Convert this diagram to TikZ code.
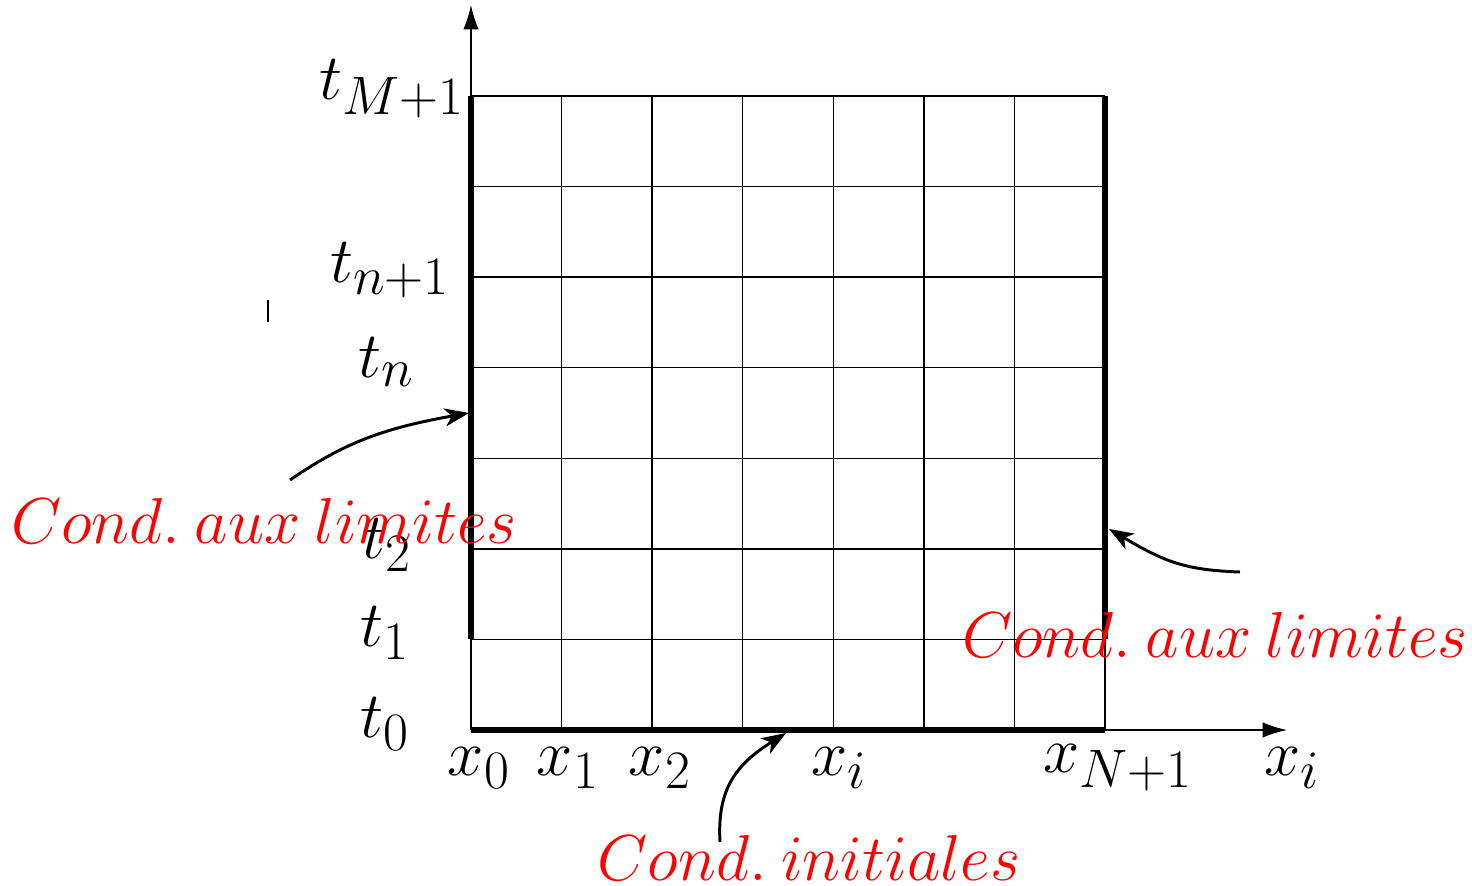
\documentclass[tikz,border=0pt]{standalone}
\usetikzlibrary{arrows.meta}
\begin{document}
\begin{tikzpicture}[x=0.3888pt,y=-0.3888pt,
  lbl/.style={font=\Huge, inner sep=0pt, scale=1.015, transform shape},
  cond/.style={lbl, text=red, anchor=base},
  thinline/.style={line width=0.55pt},
  thickb/.style={line width=2.4pt},
  axis/.style={line width=0.55pt, -{Latex[length=9.5pt,width=6pt]}},
  pointer/.style={line width=1.15pt, -{Stealth[length=9.5pt,width=7pt,inset=2.7pt]}}
]
\useasboundingbox (0,0) rectangle (1472,885);
% grid
\foreach \i in {0,...,7}{
  \draw[thinline] (471+\i*90.571,96) -- (471+\i*90.571,730);
  \draw[thinline] (471,96+\i*90.571) -- (1105,96+\i*90.571);
}
% axes
\coordinate (O) at (471,730);
\coordinate (ytop) at (471,5);
\coordinate (xend) at (1105,730);
\coordinate (xtip) at (1287,730);
\draw[axis] (O) -- (ytop);
\draw[axis] (xend) -- (xtip);
% thick boundaries
\draw[thickb] (471,96) -- (471,639);
\draw[thickb] (1105,96) -- (1105,639);
\draw[thickb] (O) -- (xend);
% stray tick
\draw[thinline] (268,300) -- (268,322);
% t labels
\node[lbl] (tM) at (392,89) {$t_{M+1}$};
\node[lbl] (tn1) at (390,270) {$t_{n+1}$};
\node[lbl] (tn) at (386,362) {$t_n$};
\node[lbl] (t2) at (387,545) {$t_2$};
\node[lbl] (t1) at (385,633) {$t_1$};
\node[lbl] (t0) at (385,724) {$t_0$};
% x labels
\node[lbl] (x0) at (479,768) {$x_0$};
\node[lbl] (x1) at (568,768) {$x_1$};
\node[lbl] (x2) at (660,768) {$x_2$};
\node[lbl] (xi) at (839,768) {$x_i$};
\node[lbl] (xN) at (1118,768) {$x_{N+1}$};
\node[lbl] (xax) at (1292,768) {$x_i$};
% pointers
\coordinate (p1s) at (290,480);
\coordinate (p1e) at (469,413);
\coordinate (p2s) at (1240,572);
\coordinate (p2e) at (1109,529);
\coordinate (p3s) at (720,842);
\coordinate (p3e) at (786,733);
\draw[pointer] (p1s) .. controls (345,442) and (385,428) .. (p1e);
\draw[pointer] (p2s) .. controls (1185,570) and (1165,562) .. (p2e);
\draw[pointer] (p3s) .. controls (717,790) and (735,765) .. (p3e);
% red labels
\node[cond] (cl) at (264,543) {$Cond.\:aux\:limites$};
\node[cond] (cr) at (1215,657) {$Cond.\:aux\:limites$};
\node[cond] (ci) at (809,880) {$Cond.\:initiales$};
\end{tikzpicture}
\end{document}
